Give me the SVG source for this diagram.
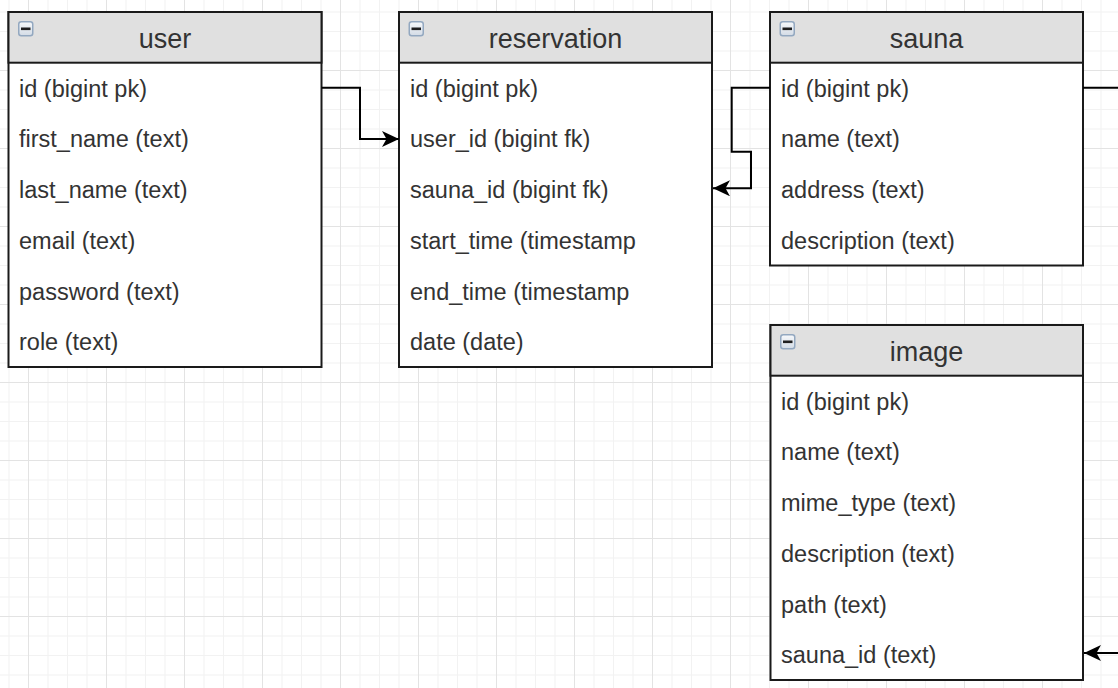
<svg xmlns="http://www.w3.org/2000/svg" width="1118" height="688" viewBox="0 0 1118 688">
  <defs>
    <pattern id="grid" patternUnits="userSpaceOnUse" x="28" y="70" width="78" height="78">
      <rect width="78" height="78" fill="#ffffff"/>
      <g fill="#f2f2f2">
        <rect x="19.5" y="0" width="1" height="78"/>
        <rect x="39" y="0" width="1" height="78"/>
        <rect x="58.5" y="0" width="1" height="78"/>
        <rect x="0" y="19.5" width="78" height="1"/>
        <rect x="0" y="39" width="78" height="1"/>
        <rect x="0" y="58.5" width="78" height="1"/>
      </g>
      <g fill="#e3e3e3">
        <rect x="0" y="0" width="1" height="78"/>
        <rect x="0" y="0" width="78" height="1"/>
      </g>
    </pattern>
    <linearGradient id="btnFill" x1="0" y1="0" x2="0" y2="1">
      <stop offset="0" stop-color="#f7f9fb"/>
      <stop offset="1" stop-color="#d3dbe5"/>
    </linearGradient>
    <marker id="arrow" viewBox="0 0 17 16" refX="17" refY="8" markerWidth="17" markerHeight="16" markerUnits="userSpaceOnUse" orient="auto">
      <path d="M0,0 L17,8 L0,16 L4.5,8 Z" fill="#000"/>
    </marker>
    <!-- collapse toggle shown in each table header -->
    <g id="collapse">
      <rect x="0.75" y="0.75" width="14" height="14" rx="2.5" fill="url(#btnFill)" stroke="#93a8c0" stroke-width="1.5"/>
      <rect x="3" y="6.5" width="9.5" height="2.6" fill="#1f1f1f"/>
    </g>
  </defs>
  <style>
    .box { fill: #ffffff; stroke: #1a1a1a; stroke-width: 2; }
    .head { fill: #e0e0e0; stroke: #1a1a1a; stroke-width: 2; }
    .title { font-family: "Liberation Sans", Arial, sans-serif; font-size: 27px; fill: #333333; text-anchor: middle; }
    .row { font-family: "Liberation Sans", Arial, sans-serif; font-size: 23.5px; fill: #333333; }
    .link { fill: none; stroke: #000000; stroke-width: 2; }
  </style>

  <!-- canvas grid -->
  <rect width="1118" height="688" fill="url(#grid)"/>

  <!-- user table -->
  <g id="user">
    <rect class="box" x="8.5" y="12" width="313" height="355"/>
    <rect class="head" x="8.5" y="12" width="313" height="50.7"/>
    <use href="#collapse" x="18" y="21"/>
    <text class="title" x="165" y="48">user</text>
    <text class="row" x="19" y="96.7">id (bigint pk)</text>
    <text class="row" x="19" y="147.4">first_name (text)</text>
    <text class="row" x="19" y="198.1">last_name (text)</text>
    <text class="row" x="19" y="248.8">email (text)</text>
    <text class="row" x="19" y="299.5">password (text)</text>
    <text class="row" x="19" y="350.2">role (text)</text>
  </g>

  <!-- reservation table -->
  <g id="reservation">
    <rect class="box" x="399" y="12" width="313" height="355"/>
    <rect class="head" x="399" y="12" width="313" height="50.7"/>
    <use href="#collapse" x="408.5" y="21"/>
    <text class="title" x="555.5" y="48">reservation</text>
    <text class="row" x="410" y="96.7">id (bigint pk)</text>
    <text class="row" x="410" y="147.4">user_id (bigint fk)</text>
    <text class="row" x="410" y="198.1">sauna_id (bigint fk)</text>
    <text class="row" x="410" y="248.8">start_time (timestamp</text>
    <text class="row" x="410" y="299.5">end_time (timestamp</text>
    <text class="row" x="410" y="350.2">date (date)</text>
  </g>

  <!-- sauna table -->
  <g id="sauna">
    <rect class="box" x="770" y="12" width="313" height="253.5"/>
    <rect class="head" x="770" y="12" width="313" height="50.7"/>
    <use href="#collapse" x="779.5" y="21"/>
    <text class="title" x="926.5" y="48">sauna</text>
    <text class="row" x="781" y="96.7">id (bigint pk)</text>
    <text class="row" x="781" y="147.4">name (text)</text>
    <text class="row" x="781" y="198.1">address (text)</text>
    <text class="row" x="781" y="248.8">description (text)</text>
  </g>

  <!-- image table -->
  <g id="image">
    <rect class="box" x="770.5" y="325" width="312.5" height="355"/>
    <rect class="head" x="770.5" y="325" width="312.5" height="50.7"/>
    <use href="#collapse" x="780" y="334"/>
    <text class="title" x="926.5" y="361">image</text>
    <text class="row" x="781" y="409.7">id (bigint pk)</text>
    <text class="row" x="781" y="460.4">name (text)</text>
    <text class="row" x="781" y="511.1">mime_type (text)</text>
    <text class="row" x="781" y="561.8">description (text)</text>
    <text class="row" x="781" y="612.5">path (text)</text>
    <text class="row" x="781" y="663.2">sauna_id (text)</text>
  </g>

  <!-- relations -->
  <g id="connectors">
    <path class="link" d="M321.5,87.7 H360 V139 H399" marker-end="url(#arrow)"/>
    <path class="link" d="M770,87.7 H731.7 V151.7 H751 V188.3 H713" marker-end="url(#arrow)"/>
    <path class="link" d="M1083,87.7 H1140 V653 H1084" marker-end="url(#arrow)"/>
  </g>
</svg>
